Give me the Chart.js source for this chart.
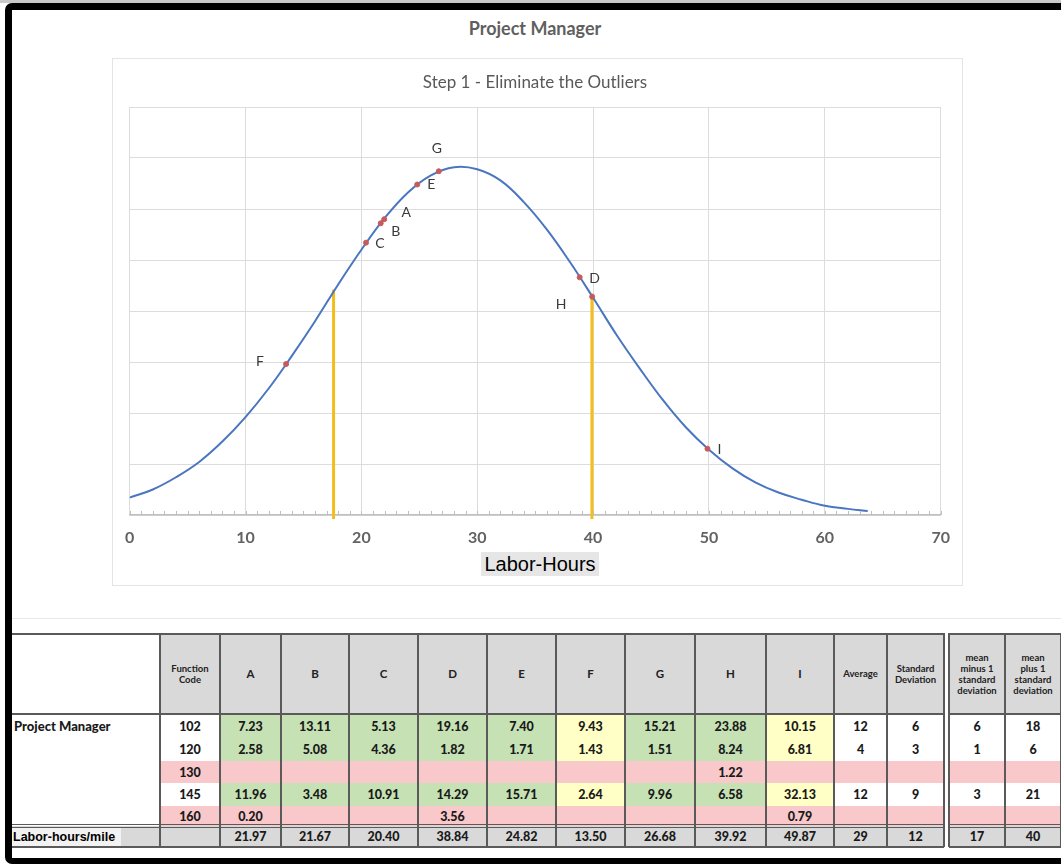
<!DOCTYPE html>
<html>
<head>
<meta charset="utf-8">
<script src="https://cdn.jsdelivr.net/npm/chart.js@4.4.0/dist/chart.umd.min.js"></script>
<style>
html, body { margin: 0; padding: 0; }
body { width: 1061px; height: 864px; position: relative; overflow: hidden; background: #fff; font-family: Lato, "Open Sans", sans-serif; }
#strip { position: absolute; left: 0; top: 0; width: 1061px; height: 3px; background: #c9c9c9; }
#frame { position: absolute; left: 5px; top: 3px; width: 1090px; height: 861px; border: 7px solid #000; border-bottom-width: 6px; border-radius: 7px; box-sizing: border-box; z-index: 5; pointer-events: none; }
#title { position: absolute; left: 0; width: 1070px; top: 17px; line-height: 22px; text-align: center; font-weight: bold; font-size: 18px; color: #5f5f5f; }
#box { position: absolute; left: 112px; top: 58px; width: 851px; height: 528px; border: 1px solid #e4e4e4; box-sizing: border-box; }
#chart { position: absolute; left: 112px; top: 58px; }
#subtitle { position: absolute; left: 112px; width: 846px; top: 71px; line-height: 22px; text-align: center; font-size: 17px; color: #595959; }
#xtitle { position: absolute; left: 481px; top: 552px; width: 118px; height: 24px; line-height: 24px; background: #e6e6e6; text-align: center; font-family: "Liberation Sans", Arial, sans-serif; font-size: 20px; color: #000; }
#sep { position: absolute; left: 12px; top: 618px; width: 1049px; height: 1px; background: #e8e8e8; }
.c { position: absolute; box-sizing: border-box; display: flex; align-items: center; justify-content: center; text-align: center; font-weight: 900; font-size: 12.5px; color: #1a1a1a; }
.h { font-size: 9.5px; line-height: 11px; color: #222; font-weight: bold; }
.ln { position: absolute; background: #5a5a5a; }
</style>
</head>
<body>
<div id="strip"></div>
<div id="title">Project Manager</div>
<div id="box"></div>
<canvas id="chart" width="851" height="528"></canvas>
<div id="subtitle">Step 1 - Eliminate the Outliers</div>
<div id="xtitle">Labor-Hours</div>
<div id="sep"></div>
<div id="table"></div>
<div id="frame"></div>
<script>
// curve (labor-hours vs. density)
const curveX = [0, 2, 4, 6, 8, 10, 12, 14, 16, 18, 20, 22, 24, 26, 28, 30, 32, 34, 36, 38, 40, 42, 44, 46, 48, 50, 52, 54, 56, 58, 60, 62, 63.7];
const curveY = [0.0017, 0.0025, 0.0037, 0.0052, 0.0072, 0.0096, 0.0124, 0.0156, 0.0190, 0.0226, 0.0260, 0.0291, 0.0316, 0.0333, 0.0341, 0.0339, 0.0328, 0.0307, 0.0280, 0.0248, 0.0213, 0.0177, 0.0144, 0.0113, 0.0086, 0.0064, 0.0046, 0.0032, 0.0022, 0.0015, 0.0009, 0.0006, 0.0004];

// projects and their labor-hours/mile
const projects = ['A', 'B', 'C', 'D', 'E', 'F', 'G', 'H', 'I'];
const laborHours = [21.97, 21.67, 20.40, 38.84, 24.82, 13.50, 26.68, 39.92, 49.87];
const pointHeights = [0.0290, 0.0286, 0.0267, 0.0233, 0.0324, 0.0148, 0.0337, 0.0214, 0.0065];

// yellow cut-off lines
const cutX = [17.6, 39.9];
const cutTop = [0.0221, 0.0217];

const xTicks = [0, 10, 20, 30, 40, 50, 60, 70];

// table data
const functionCodes = [102, 120, 130, 145, 160];
const valA = [7.23, 2.58, null, 11.96, 0.20];
const valB = [13.11, 5.08, null, 3.48, null];
const valC = [5.13, 4.36, null, 10.91, null];
const valD = [19.16, 1.82, null, 14.29, 3.56];
const valE = [7.40, 1.71, null, 15.71, null];
const valF = [9.43, 1.43, null, 2.64, null];
const valG = [15.21, 1.51, null, 9.96, null];
const valH = [23.88, 8.24, 1.22, 6.58, null];
const valI = [10.15, 6.81, null, 32.13, 0.79];
const average = [12, 4, null, 12, null];
const stdDev = [6, 3, null, 9, null];
const meanMinus = [6, 1, null, 3, null];
const meanPlus = [18, 6, null, 21, null];
const totalsSummary = [29, 12, 17, 40];

// label placement next to each point, in pixels
const labelOffsets = { A: [22, -7], B: [15, 8], C: [14, 1], D: [15, 1], E: [14, 0], F: [-26, -3], G: [-2, -23], H: [-31, 8], I: [12, 1] };

const minorTicks = {
    id: 'minorTicks',
    afterDraw(chart) {
        const x = chart.scales.x;
        const ctx = chart.ctx;
        const bottom = chart.chartArea.bottom;
        ctx.save();
        ctx.strokeStyle = '#bfbfbf';
        ctx.lineWidth = 1;
        for (let v = x.min; v <= x.max; v++) {
            const px = Math.round(x.getPixelForValue(v)) + 0.5;
            ctx.beginPath();
            ctx.moveTo(px, bottom);
            ctx.lineTo(px, bottom - 4);
            ctx.stroke();
        }
        ctx.restore();
    }
};

const pointLabels = {
    id: 'pointLabels',
    afterDatasetsDraw(chart) {
        const meta = chart.getDatasetMeta(0);
        const ctx = chart.ctx;
        ctx.save();
        ctx.font = '14px Lato';
        ctx.fillStyle = '#3a3a3a';
        ctx.textAlign = 'center';
        ctx.textBaseline = 'middle';
        meta.data.forEach((pt, i) => {
            const off = labelOffsets[projects[i]];
            ctx.fillText(projects[i], pt.x + off[0], pt.y + off[1]);
        });
        ctx.restore();
    }
};

const cutSets = cutX.map((x, i) => ({
    type: 'line',
    data: [{ x: x, y: -0.0004 }, { x: x, y: cutTop[i] }],
    borderColor: '#f4bd1a',
    borderWidth: 3,
    pointRadius: 0,
    clip: false,
    order: 3
}));

new Chart(document.getElementById('chart'), {
    type: 'scatter',
    data: {
        datasets: [
            {
                data: laborHours.map((x, i) => ({ x: x, y: pointHeights[i] })),
                backgroundColor: '#c65b5b',
                borderColor: '#c65b5b',
                pointRadius: 2.5,
                order: 0
            },
            {
                type: 'line',
                data: curveX.map((x, i) => ({ x: x, y: curveY[i] })),
                borderColor: '#4a76c0',
                borderWidth: 2,
                pointRadius: 0,
                tension: 0.4,
                order: 1
            },
            ...cutSets
        ]
    },
    options: {
        responsive: false,
        animation: false,
        devicePixelRatio: 1,
        layout: { padding: { top: 49, right: 22, left: 0, bottom: 0 } },
        plugins: { legend: { display: false }, tooltip: { enabled: false } },
        scales: {
            x: {
                type: 'linear',
                min: 0,
                max: 70,
                afterBuildTicks: s => { s.ticks = xTicks.map(v => ({ value: v })); },
                afterFit: s => { s.height = 71; },
                grid: { color: '#dcdcdc', drawTicks: false },
                border: { color: '#bfbfbf', width: 1.5 },
                ticks: { padding: 13, color: '#626262', font: { family: 'Lato', size: 16, weight: 'bold' } }
            },
            y: {
                min: 0,
                max: 0.04,
                afterFit: s => { s.width = 16; },
                grid: { color: '#dcdcdc', drawTicks: false },
                border: { display: false },
                ticks: { stepSize: 0.005, display: false }
            }
        }
    },
    plugins: [minorTicks, pointLabels]
});

// table
const colX = [12, 160, 220, 281, 349, 418, 487, 556, 625, 695, 766, 834, 887, 944, 949, 1005, 1061];
const rowY = [633, 714, 738, 761, 783, 806, 826, 847];
const projectValues = [valA, valB, valC, valD, valE, valF, valG, valH, valI];
const yellowCols = ['F', 'I'];
const pinkCodes = [130, 160];
const GREY = '#d9d9d9', GREEN = '#c6e2b5', YELLOW = '#ffffc6', PINK = '#f9c8cb';
const table = document.getElementById('table');

function cell(c, r, bg, html, cls) {
    const d = document.createElement('div');
    d.className = 'c' + (cls ? ' ' + cls : '');
    d.style.left = colX[c] + 'px';
    d.style.width = (colX[c + 1] - colX[c]) + 'px';
    d.style.top = rowY[r] + 'px';
    d.style.height = (rowY[r + 1] - rowY[r]) + 'px';
    d.style.background = bg;
    d.innerHTML = html == null ? '' : html;
    table.appendChild(d);
    return d;
}

// header row
cell(0, 0, '#fff', '');
cell(1, 0, GREY, 'Function<br>Code', 'h');
projects.forEach((p, i) => cell(2 + i, 0, GREY, p, 'h').style.fontSize = '11.5px');
cell(11, 0, GREY, 'Average', 'h');
cell(12, 0, GREY, 'Standard<br>Deviation', 'h');
cell(13, 0, '#fff', '');
cell(14, 0, GREY, 'mean<br>minus 1<br>standard<br>deviation', 'h');
cell(15, 0, GREY, 'mean<br>plus 1<br>standard<br>deviation', 'h');

// body rows
functionCodes.forEach((code, r) => {
    const row = r + 1;
    const pink = pinkCodes.includes(code);
    const lbl = cell(0, row, '#fff', r === 0 ? 'Project Manager' : '');
    lbl.style.justifyContent = 'flex-start';
    lbl.style.paddingLeft = '2px';
    lbl.style.fontSize = '13px';
    cell(1, row, pink ? PINK : '#fff', code);
    projects.forEach((p, i) => {
        const v = projectValues[i][r];
        const bg = pink ? PINK : (yellowCols.includes(p) ? YELLOW : GREEN);
        cell(2 + i, row, bg, v == null ? '' : v.toFixed(2));
    });
    const side = pink ? PINK : '#fff';
    cell(11, row, side, average[r]);
    cell(12, row, side, stdDev[r]);
    cell(13, row, '#fff', '');
    cell(14, row, side, meanMinus[r]);
    cell(15, row, side, meanPlus[r]);
});

// totals row
const tl = cell(0, 6, GREY, '<span style="background:#f2f2f2;padding:2px 6px 2px 1px;font-family:\'Liberation Sans\',Arial;font-weight:bold;font-size:12.5px;color:#000">Labor-hours/mile</span>');
tl.style.justifyContent = 'flex-start';
cell(1, 6, GREY, '');
laborHours.forEach((v, i) => cell(2 + i, 6, GREY, v.toFixed(2)));
cell(11, 6, GREY, totalsSummary[0]);
cell(12, 6, GREY, totalsSummary[1]);
cell(13, 6, '#fff', '');
cell(14, 6, GREY, totalsSummary[2]);
cell(15, 6, GREY, totalsSummary[3]);

function line(x, y, w, h) {
    const d = document.createElement('div');
    d.className = 'ln';
    d.style.left = x + 'px';
    d.style.top = y + 'px';
    d.style.width = w + 'px';
    d.style.height = h + 'px';
    table.appendChild(d);
}
// horizontal rules, broken at the gap column
[[633, 2], [713, 2], [824, 1], [827, 1], [846, 2]].forEach(([y, h]) => {
    line(colX[0], y, colX[13] - colX[0], h);
    line(colX[14], y, colX[16] - colX[14], h);
});
// vertical rules
colX.slice(1).forEach(x => line(x - 1, rowY[0], 2, rowY[7] - rowY[0]));
</script>
</body>
</html>
